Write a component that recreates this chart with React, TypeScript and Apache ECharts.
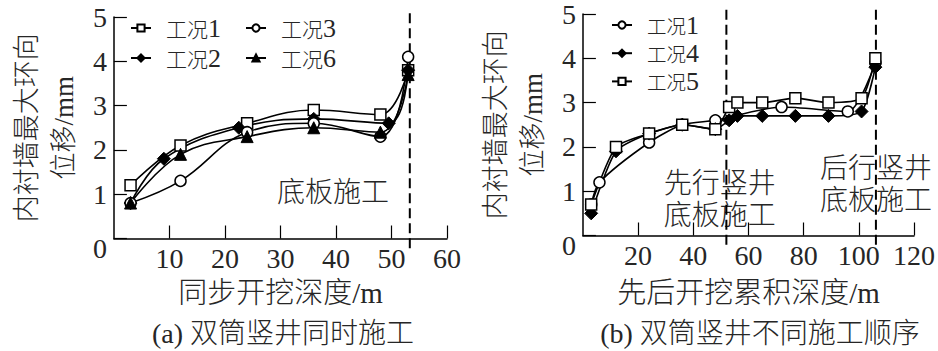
import React, { useEffect, useRef } from "react";
import * as echarts from "echarts";

// ---------- data: (a) simultaneous construction ----------
const leftCase1: [number, number][] = [[3, 1.2], [12, 2.1], [24, 2.6], [36, 2.9], [48, 2.8], [53, 3.8]];
const leftCase2: [number, number][] = [[3, 0.8], [9, 1.8], [22.5, 2.5], [36, 2.7], [49.5, 2.6], [53, 3.8]];
const leftCase3: [number, number][] = [[3, 0.8], [12, 1.3], [24, 2.4], [36, 2.6], [48, 2.3], [53, 4.1]];
const leftCase6: [number, number][] = [[3, 0.8], [12, 1.9], [24, 2.3], [36, 2.5], [48, 2.4], [53, 3.7]];
const leftDashX = 53.3;

// ---------- data: (b) different construction order ----------
const rightCase1: [number, number][] = [[3, 0.7], [6, 1.2], [24, 2.1], [36, 2.5], [48, 2.6], [72, 2.9], [96, 2.8], [106, 3.9]];
const rightCase4: [number, number][] = [[3, 0.5], [12, 1.9], [24, 2.3], [36, 2.5], [48, 2.4], [53, 2.6], [56, 2.7], [65, 2.7], [77, 2.7], [89, 2.7], [101, 2.8], [106, 3.8]];
const rightCase5: [number, number][] = [[3, 0.7], [12, 2.0], [24, 2.3], [36, 2.5], [48, 2.4], [53, 2.9], [56, 3.0], [65, 3.0], [77, 3.1], [89, 3.0], [101, 3.1], [106, 4.0]];
const rightDashX = [52, 106.2];

const yTitle = "内衬墙最大环向\n位移/mm";
const leftXTitle = "同步开挖深度/m";
const rightXTitle = "先后开挖累积深度/m";
const leftCaption = "(a) 双筒竖井同时施工";
const rightCaption = "(b) 双筒竖井不同施工顺序";

const FONT = "'Liberation Serif', 'Noto Sans CJK SC', serif";
const CJK = "'Noto Sans CJK SC', sans-serif";
const TXT = "#262626";
const W = 300;

function legendRich(cjkSize: number) {
  return {
    c: { fontFamily: CJK, fontSize: cjkSize, fontWeight: W, color: TXT, lineHeight: 24, padding: [0, 0, 0, 10] },
    d: { fontFamily: "'Liberation Serif', serif", fontSize: 26, color: TXT, lineHeight: 24 },
  };
}
const legendFormatter = (name: string) => `{c|${name.slice(0, 2)}}{d|${name.slice(2)}}`;

function mkLegend(names: string[], left: number, top: number, cjkSize = 21) {
  return {
    data: names,
    left,
    top,
    orient: "horizontal",
    itemWidth: 20,
    itemHeight: 9,
    itemGap: 0,
    selectedMode: false,
    formatter: legendFormatter,
    textStyle: { rich: legendRich(cjkSize) },
  };
}

function symbolStyle(kind: "square" | "circle" | "diamond" | "triangle") {
  if (kind === "square") return { symbol: "rect", symbolSize: 11, itemStyle: { color: "#fff", borderColor: "#000", borderWidth: 1.5 } };
  if (kind === "circle") return { symbol: "circle", symbolSize: 11, itemStyle: { color: "#fff", borderColor: "#000", borderWidth: 1.5 } };
  if (kind === "diamond") return { symbol: "diamond", symbolSize: 13, itemStyle: { color: "#000", borderColor: "#000", borderWidth: 1 } };
  return { symbol: "triangle", symbolSize: 12, itemStyle: { color: "#000", borderColor: "#000", borderWidth: 1 } };
}

function dataSeries(name: string, data: [number, number][], kind: any, smooth: number) {
  return {
    name,
    type: "line",
    data,
    smooth,
    ...symbolStyle(kind),
    lineStyle: { color: "#000", width: 1.6 },
    z: 3,
  };
}

function dashSeries(x: number, y0: number, y1: number) {
  return {
    type: "line",
    data: [[x, y0], [x, y1]],
    symbol: "none",
    silent: true,
    clip: false,
    lineStyle: { color: "#000", width: 2, type: [10, 5] },
    z: 1,
  };
}

function axes(xMax: number, xInterval: number, yNameGap: number, xNameGap: number, xName: string) {
  return {
    xAxis: {
      type: "value",
      min: 0,
      max: xMax,
      interval: xInterval,
      name: xName,
      nameLocation: "middle",
      nameGap: xNameGap,
      nameTextStyle: { fontFamily: FONT, fontSize: 29, fontWeight: W, color: TXT, lineHeight: 32 },
      axisLine: { show: true, lineStyle: { color: "#000", width: 1.5 } },
      axisTick: { show: true, inside: true, length: 13, lineStyle: { color: "#000", width: 1.2 } },
      axisLabel: { showMinLabel: false, margin: 6, fontFamily: "'Liberation Serif', serif", fontSize: 28, color: TXT },
      splitLine: { show: false },
    },
    yAxis: {
      type: "value",
      min: 0,
      max: 5,
      interval: 1,
      name: yTitle,
      nameLocation: "middle",
      nameGap: yNameGap,
      nameTextStyle: { fontFamily: FONT, fontSize: 27, fontWeight: W, color: TXT, lineHeight: 37 },
      axisLine: { show: true, lineStyle: { color: "#000", width: 1.5 } },
      axisTick: { show: true, inside: true, length: 13, lineStyle: { color: "#000", width: 1.2 } },
      axisLabel: {
        margin: 7,
        fontFamily: "'Liberation Serif', serif",
        fontSize: 28,
        color: TXT,
        formatter: (v: number) => (v === 0 ? "{z|0}" : String(v)),
        rich: { z: { fontFamily: "'Liberation Serif', serif", fontSize: 28, color: TXT, padding: [20, 0, 0, 0] } },
      },
      splitLine: { show: false },
    },
  };
}

function textEl(text: string, x: number, y: number, size = 28) {
  return {
    type: "text",
    x,
    y,
    silent: true,
    style: {
      text,
      fill: TXT,
      fontSize: size,
      fontWeight: W,
      fontFamily: FONT,
      align: "center",
      verticalAlign: "middle",
      textAlign: "center",
      textVerticalAlign: "middle",
      lineHeight: 32,
    },
  };
}

export default function App() {
  const leftRef = useRef<HTMLDivElement>(null);
  const rightRef = useRef<HTMLDivElement>(null);

  useEffect(() => {
    const lc = echarts.init(leftRef.current!, undefined, { renderer: "svg" });
    const rc = echarts.init(rightRef.current!, undefined, { renderer: "svg" });

    lc.setOption({
      animation: false,
      grid: { left: 95, top: 17, width: 352, height: 221.5 },
      ...axes(60, 10, 24, 38.5, leftXTitle),
      legend: [
        mkLegend(["工况1"], 125, 10),
        mkLegend(["工况3"], 240, 10),
        mkLegend(["工况2"], 125, 40),
        mkLegend(["工况6"], 240, 40),
      ],
      series: [
        dashSeries(leftDashX, -0.22, 5.12),
        dataSeries("工况1", leftCase1, "square", 0.4),
        dataSeries("工况2", leftCase2, "diamond", 0.4),
        dataSeries("工况3", leftCase3, "circle", 0.4),
        dataSeries("工况6", leftCase6, "triangle", 0.4),
      ],
      graphic: [textEl("底板施工", 333, 192), textEl(leftCaption, 283, 333)],
    });

    rc.setOption({
      animation: false,
      grid: { left: 97.2, top: 13, width: 351.8, height: 222.5 },
      ...axes(120, 20, 26, 41.5, rightXTitle),
      legend: [
        mkLegend(["工况1"], 137, 7, 19.5),
        mkLegend(["工况4"], 137, 35.2, 19.5),
        mkLegend(["工况5"], 137, 63.4, 19.5),
      ],
      series: [
        dashSeries(rightDashX[0], -0.21, 5.18),
        dashSeries(rightDashX[1], -0.21, 5.18),
        dataSeries("工况1", rightCase1, "circle", 0.25),
        dataSeries("工况4", rightCase4, "diamond", 0.2),
        dataSeries("工况5", rightCase5, "square", 0.2),
      ],
      graphic: [
        textEl("先行竖井", 250.7, 183),
        textEl("底板施工", 250.7, 215),
        textEl("后行竖井", 407, 168),
        textEl("底板施工", 407, 200),
        textEl(rightCaption, 291, 333),
      ],
    });

    return () => {
      lc.dispose();
      rc.dispose();
    };
  }, []);

  return (
    <div style={{ position: "fixed", left: 0, top: 0, width: 938, height: 351, background: "#fff" }}>
      <div ref={leftRef} style={{ position: "absolute", left: 0, top: 0, width: 469, height: 351 }} />
      <div ref={rightRef} style={{ position: "absolute", left: 469, top: 0, width: 469, height: 351 }} />
    </div>
  );
}
